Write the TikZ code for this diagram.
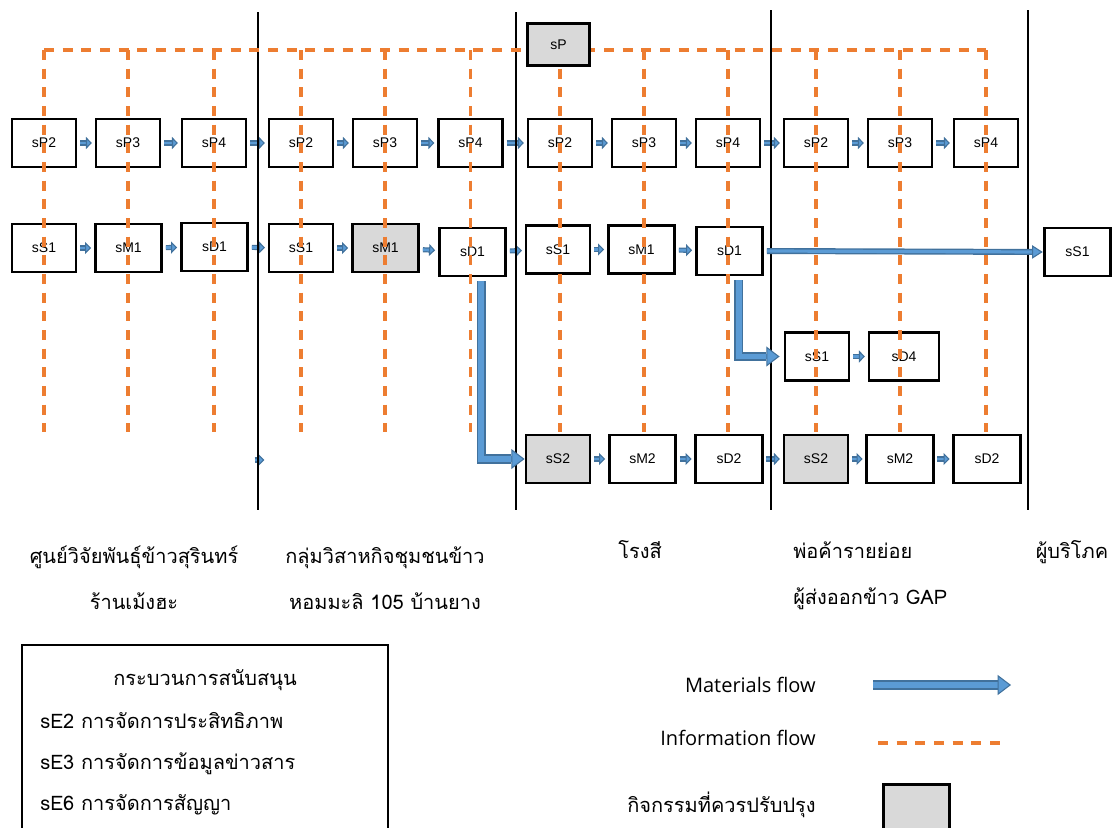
\documentclass[tikz,border=0pt]{standalone}
\usepackage{fontspec}
\setmainfont{Liberation Sans}
\newfontfamily\thaifont[Script=Thai]{Loma}
\newfontfamily\legendfont{Open Sans}
\usetikzlibrary{arrows.meta,positioning,calc}

\definecolor{flowfill}{RGB}{91,155,213}
\definecolor{flowedge}{RGB}{65,113,156}
\definecolor{infoorange}{RGB}{237,125,49}
\definecolor{improvegray}{RGB}{217,217,217}

\tikzset{
  act/.style={draw, line width=2.1pt, fill=white, minimum width=48pt, minimum height=36pt,
    inner sep=0pt, font=\fontsize{10.5}{12}\selectfont},
  actw/.style={act, minimum width=50pt},
  improve/.style={fill=improvegray},
  flow/.style n args={4}{preaction={draw=flowedge, arrows=-, line width=#1, shorten >=#3},
    draw=flowfill, line width=#2,
    -{Triangle[length=#3, width=#4, line width=0.8pt, fill=flowfill, color=flowedge]}},
  sflow/.style={flow={3.8pt}{2pt}{4.5pt}{9pt}, shorten <=2pt, shorten >=2pt},
  bflow/.style={flow={6.8pt}{4.2pt}{10pt}{15pt}},
  lflow/.style={flow={4.5pt}{2.4pt}{8pt}{10pt}},
  iflow/.style={draw=infoorange, line width=2.4pt, dash pattern=on 7.5pt off 6.5pt},
  stage/.style={line width=1.9pt},
  thailabel/.style={font=\thaifont\fontsize{15}{18}\selectfont, inner sep=0pt},
  latinlabel/.style={font=\legendfont\fontsize{15}{18}\selectfont, inner sep=0pt}
}

\begin{document}
\begin{tikzpicture}[x=0.75pt, y=-0.75pt]
  \clip (0,0) rectangle (1115,828);

  % activities: seed centre / shop
  \node[act] (p2a) at (44,143) {sP2};
  \node[act] (p3a) at (128,143) {sP3};
  \node[act] (p4a) at (214,143) {sP4};
  \node[act] (s1a) at (44,248) {sS1};
  \node[actw] (m1a) at (128.5,248) {sM1};
  \node[actw] (d1a) at (214.5,247) {sD1};

  % community enterprise
  \node[act] (p2b) at (301,143) {sP2};
  \node[act] (p3b) at (385,143) {sP3};
  \node[act] (p4b) at (470.5,143) {sP4};
  \node[act] (s1b) at (301,248) {sS1};
  \node[actw, improve] (m1b) at (385.5,248) {sM1};
  \node[actw] (d1b) at (472.5,252) {sD1};

  % rice mill
  \node[act] (p2c) at (560,143) {sP2};
  \node[act] (p3c) at (644,143) {sP3};
  \node[act] (p4c) at (728,143) {sP4};
  \node[act] (s1c) at (558,249.5) {sS1};
  \node[actw] (m1c) at (641.5,249.5) {sM1};
  \node[actw] (d1c) at (729.5,251) {sD1};
  \node[act, improve] (s2c) at (558,459) {sS2};
  \node[actw] (m2c) at (642.5,459) {sM2};
  \node[actw] (d2c) at (729,459) {sD2};

  % traders / exporters
  \node[act] (p2d) at (816,143) {sP2};
  \node[act] (p3d) at (900,143) {sP3};
  \node[act] (p4d) at (986,143) {sP4};
  \node[act] (s1d) at (817,356.5) {sS1};
  \node[act, minimum width=52.5pt] (d4d) at (904,356.5) {sD4};
  \node[act, improve] (s2d) at (816,459) {sS2};
  \node[actw] (m2d) at (900,459) {sM2};
  \node[actw] (d2d) at (987,459) {sD2};

  % consumer
  \node[actw] (s1e) at (1077.5,252) {sS1};

  % small material arrows
  \foreach \a/\b in {p2a/p3a, p3a/p4a, p4a/p2b, p2b/p3b, p3b/p4b, p4b/p2c, p2c/p3c, p3c/p4c,
                     p4c/p2d, p2d/p3d, p3d/p4d,
                     s1a/m1a, m1a/d1a, d1a/s1b, s1b/m1b, m1b/d1b, d1b/s1c, s1c/m1c, m1c/d1c,
                     s1d/d4d, s2c/m2c, m2c/d2c, d2c/s2d, s2d/m2d, m2d/d2d}
    \draw[sflow] (\a) -- (\b);
  \coordinate (lone-a) at (252,460);
  \coordinate (lone-b) at (267,460);
  \draw[sflow] (lone-a) -- (lone-b);

  % stage borders
  \foreach \x/\top in {258/12, 516/12, 771/10, 1028/10}
    \draw[stage] (\x,\top) -- (\x,510);

  % information flow
  \coordinate (info) at (0,50);
  \coordinate (infoend) at (0,432);
  \draw[iflow] (p2a |- info) -- (p4d |- info);
  \foreach \n in {p2a, p3a, p4a, p2b, p3b, p4b, p2c, p3c, p4c, p2d, p3d, p4d}
    \draw[iflow] (\n |- info) -- (\n |- infoend);

  % planning box sits over the information line
  \node[act, improve, minimum width=46pt, minimum height=31pt] (sP) at (558.5,44.5) {sP};

  % main material flows
  \draw[bflow] ([xshift=6.5pt, yshift=-3pt]d1b.south) |- (s2c.west);
  \draw[bflow] ([xshift=7pt, yshift=-3pt]d1c.south) |- ([xshift=-3pt]s1d.west);
  \draw[lflow] ([xshift=2pt]d1c.east) -- (s1e.west);

  % stage names
  \node[thailabel, anchor=base] (st-a1) at (134,563) {ศูนย์วิจัยพันธุ์ข้าวสุรินทร์};
  \node[thailabel, anchor=base] (st-a2) at (134,609) {ร้านเม้งฮะ};
  \node[thailabel, anchor=base] (st-b1) at (385,563) {กลุ่มวิสาหกิจชุมชนข้าว};
  \node[thailabel, anchor=base] (st-b2) at (385,609) {หอมมะลิ 105 บ้านยาง};
  \node[thailabel, anchor=base] (st-c1) at (640,558) {โรงสี};
  \node[thailabel, anchor=base west] (st-d1) at (793,558) {พ่อค้ารายย่อย};
  \node[thailabel, anchor=base west] (st-d2) at (793,604) {ผู้ส่งออกข้าว GAP};
  \node[thailabel, anchor=base] (st-e1) at (1072,558) {ผู้บริโภค};

  % support processes
  \draw[line width=1.1pt] (22,645) rectangle (388,860);
  \node[thailabel, anchor=base] (sup) at (205,685) {กระบวนการสนับสนุน};
  \node[thailabel, anchor=base west] (se2) at (40,728) {sE2 การจัดการประสิทธิภาพ};
  \node[thailabel, anchor=base west] (se3) at (40,769) {sE3 การจัดการข้อมูลข่าวสาร};
  \node[thailabel, anchor=base west] (se6) at (40,810) {sE6 การจัดการสัญญา};

  % key
  \node[latinlabel, anchor=base east] (key-m) at (816,692) {Materials flow};
  \node[latinlabel, anchor=base east] (key-i) at (816,745) {Information flow};
  \node[thailabel, anchor=base east] (key-g) at (816,812) {กิจกรรมที่ควรปรับปรุง};
  \coordinate (km-a) at (873,685);
  \coordinate (km-b) at (1011,685);
  \draw[bflow] (km-a) -- (km-b);
  \coordinate (ki-a) at (878,743);
  \coordinate (ki-b) at (1002,743);
  \draw[iflow] (ki-a) -- (ki-b);
  \node[act, improve, minimum width=50pt, minimum height=38pt] (key-box) at (916.5,810) {};
\end{tikzpicture}
\end{document}
